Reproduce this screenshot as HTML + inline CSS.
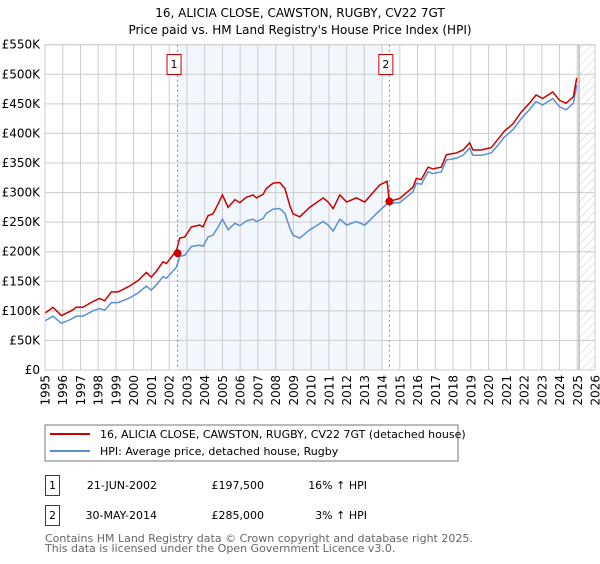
<!DOCTYPE html>
<html><head><meta charset="utf-8"><style>
body{margin:0;background:#fff;width:600px;height:560px;overflow:hidden;font-family:"DejaVu Sans","Liberation Sans",sans-serif}
svg text{font-family:"DejaVu Sans","Liberation Sans",sans-serif}
</style></head><body>
<svg id="chart" width="600" height="560">
<defs><pattern id="hatch" width="6" height="6" patternUnits="userSpaceOnUse" patternTransform="rotate(45)"><line x1="0" y1="0" x2="0" y2="6" stroke="#ccc" stroke-width="1"/></pattern></defs>
<text x="300" y="17" text-anchor="middle" font-size="12">16, ALICIA CLOSE, CAWSTON, RUGBY, CV22 7GT</text>
<text x="300" y="34" text-anchor="middle" font-size="12">Price paid vs. HM Land Registry's House Price Index (HPI)</text>
<g id="plot"></g>
<rect x="45" y="425" width="413" height="36" fill="#fff" stroke="#777"/>
<line x1="50" y1="434" x2="90" y2="434" stroke="#cc0000" stroke-width="2"/>
<text x="100" y="438" font-size="11">16, ALICIA CLOSE, CAWSTON, RUGBY, CV22 7GT (detached house)</text>
<line x1="50" y1="451" x2="90" y2="451" stroke="#5b8fd4" stroke-width="2"/>
<text x="100" y="455" font-size="11">HPI: Average price, detached house, Rugby</text>
<g font-size="11">
<rect x="45.5" y="475.5" width="14" height="20" fill="#fff" stroke="#cc0000"/>
<text x="52.5" y="489" text-anchor="middle">1</text>
<text x="157" y="489" text-anchor="end">21-JUN-2002</text>
<text x="264" y="489" text-anchor="end">£197,500</text>
<text x="367" y="489" text-anchor="end">16% ↑ HPI</text>
</g>
<g font-size="11">
<rect x="45.5" y="505.5" width="14" height="20" fill="#fff" stroke="#cc0000"/>
<text x="52.5" y="519" text-anchor="middle">2</text>
<text x="157" y="519" text-anchor="end">30-MAY-2014</text>
<text x="264" y="519" text-anchor="end">£285,000</text>
<text x="367" y="519" text-anchor="end">3% ↑ HPI</text>
</g>
<text x="45" y="542" font-size="11" fill="#666">Contains HM Land Registry data © Crown copyright and database right 2025.</text>
<text x="45" y="552" font-size="11" fill="#666">This data is licensed under the Open Government Licence v3.0.</text>
</svg>
<script>
const years=[1995.0,1995.45,1995.92,1996.48,1996.77,1997.14,1997.71,1998.08,1998.36,1998.74,1999.12,1999.77,2000.24,2000.71,2000.99,2001.28,2001.65,2001.84,2002.41,2002.59,2002.88,2003.25,2003.72,2003.91,2004.19,2004.47,2004.76,2005.0,2005.32,2005.7,2005.98,2006.35,2006.73,2006.92,2007.29,2007.48,2007.86,2008.23,2008.52,2008.8,2008.98,2009.36,2009.92,2010.68,2010.96,2011.24,2011.62,2012.0,2012.55,2013.02,2013.4,2013.87,2014.28,2014.41,2014.99,2015.74,2015.93,2016.21,2016.59,2016.87,2017.34,2017.62,2018.18,2018.56,2018.93,2019.12,2019.59,2020.15,2020.53,2020.9,2021.37,2021.84,2022.3,2022.68,2023.05,2023.62,2024.0,2024.37,2024.78,2024.97];
const hpi=[83,91,79,86,91,91,100,104,101,114,114,122,130,142,135,144,158,155,174,192,194,209,211,209,225,228,242,255,237,248,244,252,255,251,256,265,272,273,265,240,228,223,237,251,245,235,255,245,251,245,256,270,281,282,283,301,316,314,335,332,335,355,358,363,375,363,363,367,380,394,406,425,440,454,448,459,445,440,451,482];
const property=[96,106,92,100,106,106,116,121,117,132,132,142,151,165,157,167,183,180,202,223,225,242,245,242,261,264,281,296,275,288,283,292,296,291,297,307,316,317,307,278,264,259,275,291,284,273,296,284,291,284,297,313,319,285,290,309,324,322,343,340,343,364,367,372,384,372,372,376,390,404,416,436,451,465,459,470,456,451,462,494];
const saleYears=[2002.47,2014.41];
const salePrices=[197.5,285];
const saleLabels=["1","2"];
const yTicks=[0,50,100,150,200,250,300,350,400,450,500,550];
const yTickLabels=["£0","£50K","£100K","£150K","£200K","£250K","£300K","£350K","£400K","£450K","£500K","£550K"];
const xTicks=[1995,1996,1997,1998,1999,2000,2001,2002,2003,2004,2005,2006,2007,2008,2009,2010,2011,2012,2013,2014,2015,2016,2017,2018,2019,2020,2021,2022,2023,2024,2025,2026];
const L=45,R=595,T=44.7,B=370;
const X=y=>L+(y-1995)/(2026-1995)*(R-L);
const Y=v=>B-v/550*(B-T);
const NS="http://www.w3.org/2000/svg";
const g=document.getElementById('plot');
function mk(t,a,p){const e=document.createElementNS(NS,t);for(const k in a)e.setAttribute(k,a[k]);(p||g).appendChild(e);return e;}
let e;
e=mk('rect',{x:X(saleYears[0]),y:T,width:X(2014.0)-X(saleYears[0]),height:B-T,fill:'#eef3fc',opacity:0.75});


e=mk('rect',{x:X(2025.1),y:T,width:R-X(2025.1),height:B-T,fill:'url(#hatch)'});


yTicks.forEach((v,i)=>{
 e=mk('line',{x1:L,x2:R,y1:Y(v),y2:Y(v),stroke:'#ccc'});
 
 
 e=mk('text',{x:L-5,y:Y(v)+4,'text-anchor':'end','font-size':12});
 e.textContent=yTickLabels[i];
 
 
});
xTicks.forEach(t=>{
 e=mk('line',{x1:X(t),x2:X(t),y1:T,y2:B,stroke:'#ccc'});
 
 
 const tx=X(t)+4.5, ty=375;
 e=mk('text',{x:tx,y:ty,'text-anchor':'end','font-size':12,transform:'rotate(-90 '+tx+' '+ty+')'});
 e.textContent=t;
 
 
});
e=mk('line',{x1:X(2025.1),x2:X(2025.1),y1:T,y2:B,stroke:'#999'});


saleYears.forEach((s,i)=>{
 e=mk('line',{x1:X(s),x2:X(s),y1:T,y2:B,stroke:'#e06060','stroke-dasharray':'2,3'});
 
 
});
e=mk('polyline',{points:years.map((y,i)=>X(y)+','+Y(hpi[i])).join(' '),fill:'none',stroke:'#5b8fd4','stroke-width':1.5});


e=mk('polyline',{points:years.map((y,i)=>X(y)+','+Y(property[i])).join(' '),fill:'none',stroke:'#cc0000','stroke-width':1.5});


saleYears.forEach((s,i)=>{
 e=mk('circle',{cx:X(s),cy:Y(salePrices[i]),r:4,fill:'#cc0000'});
 
 
 e=mk('rect',{x:X(s)-10.5,y:54.5,width:14,height:20,fill:'#fff',stroke:'#cc0000'});
 
 
 e=mk('text',{x:X(s)-3.5,y:68,'text-anchor':'middle','font-size':11});
 e.textContent=saleLabels[i];
 
 
});
e=mk('rect',{x:L,y:T,width:R-L,height:B-T,fill:'none',stroke:'#ccc'});


</script>
</body></html>
